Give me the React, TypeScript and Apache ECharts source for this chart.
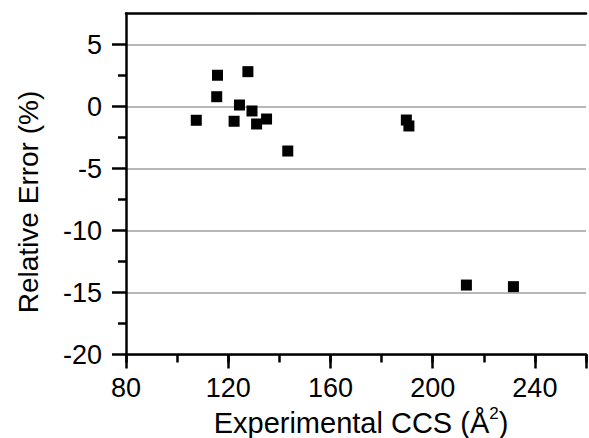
import React, { useEffect, useRef } from "react";
import * as echarts from "echarts";

const ccsValues = [107.5, 115.8, 115.5, 122.3, 124.4, 127.7, 129.3, 131.1, 135.0, 143.3, 189.7, 190.7, 213.2, 231.6];
const errorValues = [-1.11, 2.52, 0.79, -1.19, 0.12, 2.81, -0.36, -1.41, -1.01, -3.59, -1.09, -1.57, -14.4, -14.53];
const yMajorTicks = [-20, -15, -10, -5, 0, 5];
const yMinorTicks = [-17.5, -12.5, -7.5, -2.5, 2.5];
const xMajorLabels = [80, 120, 160, 200, 240];

const FONT = "'Liberation Sans', Arial, sans-serif";

export default function App() {
  const ref = useRef<HTMLDivElement>(null);
  useEffect(() => {
    document.body.style.margin = "0";
    const chart = echarts.init(ref.current!, undefined, { renderer: "svg" });
    const axisLine = { show: true, onZero: false, lineStyle: { color: "#000", width: 2.5 } };
    const noLine = { show: false, onZero: false };
    chart.setOption({
      animation: false,
      backgroundColor: "#fff",
      grid: { left: 126, top: 13.5, right: -4, bottom: 83.5, containLabel: false },
      xAxis: [
        {
          type: "value", min: 80, max: 260, interval: 40, position: "bottom",
          axisLine,
          axisTick: { show: true, length: 14, lineStyle: { color: "#000", width: 2.5 } },
          axisLabel: {
            show: true, margin: 20, color: "#000", fontSize: 27, fontFamily: FONT,
            formatter: (v: number) => (xMajorLabels.includes(v) ? String(v) : ""),
          },
          splitLine: { show: false },
        },
        {
          type: "value", min: 80, max: 260, interval: 20, position: "bottom",
          axisLine: noLine,
          axisTick: { show: true, length: 8, lineStyle: { color: "#000", width: 2.5 } },
          axisLabel: { show: false },
          splitLine: { show: false },
        },
        {
          type: "value", min: 80, max: 260, position: "top",
          axisLine,
          axisTick: { show: false },
          axisLabel: { show: false },
          splitLine: { show: false },
        },
      ],
      yAxis: [
        {
          type: "value", min: -20, max: 7.5, interval: 5, position: "left",
          axisLine,
          axisTick: { show: true, length: 14, customValues: yMajorTicks, lineStyle: { color: "#000", width: 2.5 } },
          axisLabel: {
            show: true, margin: 24, color: "#000", fontSize: 27, fontFamily: FONT,
            customValues: yMajorTicks,
          },
          splitLine: { show: true, lineStyle: { color: "#a0a0a0", width: 1.5 } },
        },
        {
          type: "value", min: -20, max: 7.5, interval: 2.5, position: "left",
          axisLine: noLine,
          axisTick: { show: true, length: 8, customValues: yMinorTicks, lineStyle: { color: "#000", width: 2.5 } },
          axisLabel: { show: false },
          splitLine: { show: false },
        },
      ],
      graphic: [
        {
          type: "text", x: 28, y: 202, rotation: Math.PI / 2,
          style: {
            text: "Relative Error (%)", fill: "#000", font: `28px ${FONT}`,
            align: "center", verticalAlign: "middle",
          },
        },
        {
          type: "text", x: 361, y: 421,
          style: {
            text: "{n|Experimental CCS (Å}{s|2}{n|)}", align: "center", verticalAlign: "middle",
            rich: {
              n: { fontSize: 29, fontFamily: FONT, fill: "#000", lineHeight: 32, verticalAlign: "bottom" },
              s: { fontSize: 17, fontFamily: FONT, fill: "#000", lineHeight: 32, verticalAlign: "top" },
            },
          },
        },
      ],
      series: [
        {
          type: "scatter", xAxisIndex: 0, yAxisIndex: 0,
          symbol: "rect", symbolSize: 11,
          itemStyle: { color: "#000", opacity: 1 },
          data: ccsValues.map((x, i) => [x, errorValues[i]]),
        },
      ],
    });
    return () => chart.dispose();
  }, []);
  return <div ref={ref} style={{ width: 589, height: 438 }} />;
}
